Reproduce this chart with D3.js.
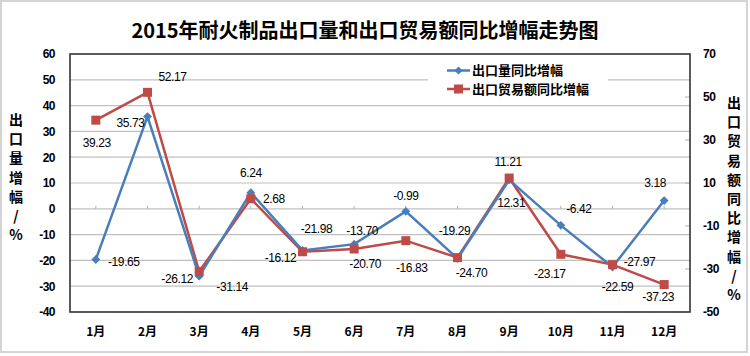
<!DOCTYPE html>
<html><head><meta charset="utf-8">
<script src="https://cdn.jsdelivr.net/npm/d3@7/dist/d3.min.js"></script>
<style>
body{margin:0;background:#fff;}
svg{display:block;font-family:"Liberation Sans",Arial,sans-serif;}
</style></head>
<body><svg id="c" width="750" height="356"></svg>
<script>
const categories = ["1月","2月","3月","4月","5月","6月","7月","8月","9月","10月","11月","12月"];
const volumeGrowth = [-19.65,35.73,-26.12,6.24,-16.12,-13.70,-0.99,-19.29,11.21,-6.42,-22.59,3.18];
const valueGrowth = [39.23,52.17,-31.14,2.68,-21.98,-20.70,-16.83,-24.70,12.31,-23.17,-27.97,-37.23];
const leftTicks = [60,50,40,30,20,10,0,-10,-20,-30,-40];
const rightTicks = [70,50,30,10,-10,-30,-50];
const seriesNames = ["出口量同比增幅","出口贸易额同比增幅"];
const titleText = "2015年耐火制品出口量和出口贸易额同比增幅走势图";
const leftAxisTitle = "出口量增幅/%";
const rightAxisTitle = "出口贸易额同比增幅/%";
// label offsets (layout, px) relative to each point
const volLabelOff = [[28,2],[-17,6],[-22,3],[0,-20],[-22,7],[8,-13],[0,-16],[-3,-28],[-1,-18],[18,-17],[5,20],[-9,-18]];
const valLabelOff = [[1,23],[25,-16],[33,15],[23,0],[14,-23],[11,15],[6,27],[14,15],[2,25],[-11,19],[27,-3],[-6,12]];

const svg = d3.select("#c");
const M = {l:70, r:690, t:54, b:312};
const x = d3.scaleBand().domain(categories).range([M.l, M.r]);
const yL = d3.scaleLinear().domain([-40,60]).range([M.b, M.t]);
const yR = d3.scaleLinear().domain([-50,70]).range([M.b, M.t]);
const cx = c => x(c) + x.bandwidth()/2;
const hy = s => String(s).replace("\u2212","-");

svg.append("rect").attr("x",1).attr("y",1).attr("width",746).attr("height",351)
  .attr("fill","#fff").attr("stroke","#d4d4d4").attr("stroke-width",2);

svg.append("text").attr("x",365).attr("y",38).attr("text-anchor","middle")
  .attr("font-family","'Noto Sans CJK SC',sans-serif").attr("font-weight","bold")
  .attr("font-size",20).attr("fill","#000").text(titleText);

// gridlines
svg.append("g").selectAll("line").data(leftTicks.slice(1,-1)).join("line")
  .attr("x1",M.l).attr("x2",M.r).attr("y1",d=>yL(d)).attr("y2",d=>yL(d))
  .attr("stroke","#c0c0c0").attr("stroke-width",1.2);

// category ticks on zero line
svg.append("g").selectAll("line").data(categories).join("line")
  .attr("x1",d=>cx(d)).attr("x2",d=>cx(d)).attr("y1",yL(0)-3).attr("y2",yL(0))
  .attr("stroke","#b0b0b0");

// right inner ticks
svg.append("g").selectAll("line").data(rightTicks.slice(1,-1)).join("line")
  .attr("x1",M.r-5).attr("x2",M.r).attr("y1",d=>yR(d)).attr("y2",d=>yR(d))
  .attr("stroke","#b0b0b0");

// plot border
svg.append("rect").attr("x",M.l).attr("y",M.t).attr("width",M.r-M.l).attr("height",M.b-M.t)
  .attr("fill","none").attr("stroke","#333").attr("stroke-width",1.6);

// left axis labels
const lax = d3.axisLeft(yL).tickValues(leftTicks).tickFormat(d=>String(d)).tickSize(0).tickPadding(15);
const gl = svg.append("g").attr("transform",`translate(${M.l},0)`).call(lax);
gl.select(".domain").remove();
gl.selectAll("text").attr("font-size",12).attr("font-weight","bold").attr("fill","#000")
  .attr("font-family","'Liberation Sans Narrow','Liberation Sans',sans-serif").style("letter-spacing","-0.5px");

const rax = d3.axisRight(yR).tickValues(rightTicks).tickFormat(d=>String(d)).tickSize(0).tickPadding(13);
const gr = svg.append("g").attr("transform",`translate(${M.r},0)`).call(rax);
gr.select(".domain").remove();
gr.selectAll("text").attr("font-size",12).attr("font-weight","bold").attr("fill","#000")
  .attr("font-family","'Liberation Sans Narrow','Liberation Sans',sans-serif").style("letter-spacing","-0.5px");

const bax = d3.axisBottom(x).tickSize(0).tickPadding(15);
const gb = svg.append("g").attr("transform",`translate(0,${M.b})`).call(bax);
gb.select(".domain").remove();
gb.selectAll("text").attr("font-size",12).attr("font-weight","bold").attr("fill","#000")
  .attr("font-family","'Noto Sans CJK SC',sans-serif");

// axis titles (vertical stacked)
function vtitle(str, xc, y0){
  svg.append("g").selectAll("text").data(Array.from(str)).join("text")
    .attr("x",xc).attr("y",(d,i)=>y0+i*19.2).attr("text-anchor","middle")
    .attr("font-family","'Noto Sans CJK SC',sans-serif").attr("font-weight","bold")
    .attr("font-size",14).attr("fill","#000").text(d=>d);
}
vtitle(leftAxisTitle, 16, 125);
vtitle(rightAxisTitle, 734, 108);

const blue = "#4a7ebb", red = "#be4b48";
const lineL = d3.line().x((d,i)=>cx(categories[i])).y(d=>yL(d));
const lineR = d3.line().x((d,i)=>cx(categories[i])).y(d=>yR(d));

svg.append("path").datum(valueGrowth).attr("d",lineR).attr("fill","none")
  .attr("stroke",red).attr("stroke-width",2.5);
svg.append("path").datum(volumeGrowth).attr("d",lineL).attr("fill","none")
  .attr("stroke",blue).attr("stroke-width",2.5);

svg.append("g").selectAll("path").data(volumeGrowth).join("path")
  .attr("d",d3.symbol(d3.symbolDiamond2,50))
  .attr("transform",(d,i)=>`translate(${cx(categories[i])},${yL(d)})`).attr("fill",blue);
svg.append("g").selectAll("rect").data(valueGrowth).join("rect")
  .attr("x",(d,i)=>cx(categories[i])-4.5).attr("y",d=>yR(d)-4.5)
  .attr("width",9).attr("height",9).attr("fill",red);

// data labels
const fmt = d => hy(d3.format(".2f")(d));
svg.append("g").selectAll("text").data(volumeGrowth).join("text")
  .attr("x",(d,i)=>cx(categories[i])+volLabelOff[i][0]).attr("y",(d,i)=>yL(d)+volLabelOff[i][1])
  .attr("dy","0.35em").attr("text-anchor","middle").attr("font-size",12).attr("fill","#000")
  .style("letter-spacing","-0.4px").text(d=>fmt(d));
svg.append("g").selectAll("text").data(valueGrowth).join("text")
  .attr("x",(d,i)=>cx(categories[i])+valLabelOff[i][0]).attr("y",(d,i)=>yR(d)+valLabelOff[i][1])
  .attr("dy","0.35em").attr("text-anchor","middle").attr("font-size",12).attr("fill","#000")
  .style("letter-spacing","-0.4px").text(d=>fmt(d));

// legend
const lg = svg.append("g");
lg.append("rect").attr("x",428).attr("y",60).attr("width",180).attr("height",40).attr("fill","#fff");
const lrows = [{n:seriesNames[0],c:blue,t:"d",y:70.5},{n:seriesNames[1],c:red,t:"s",y:89}];
lrows.forEach(r=>{
  lg.append("line").attr("x1",447).attr("x2",470).attr("y1",r.y).attr("y2",r.y).attr("stroke",r.c).attr("stroke-width",2.5);
  if(r.t==="d") lg.append("path").attr("d",d3.symbol(d3.symbolDiamond2,40)).attr("transform",`translate(458.5,${r.y})`).attr("fill",r.c);
  else lg.append("rect").attr("x",454).attr("y",r.y-4.5).attr("width",9).attr("height",9).attr("fill",r.c);
  lg.append("text").attr("x",472).attr("y",r.y).attr("dy","0.36em").attr("font-size",13)
    .attr("font-family","'Noto Sans CJK SC',sans-serif").attr("font-weight","bold").attr("fill","#000").text(r.n);
});
</script></body></html>
